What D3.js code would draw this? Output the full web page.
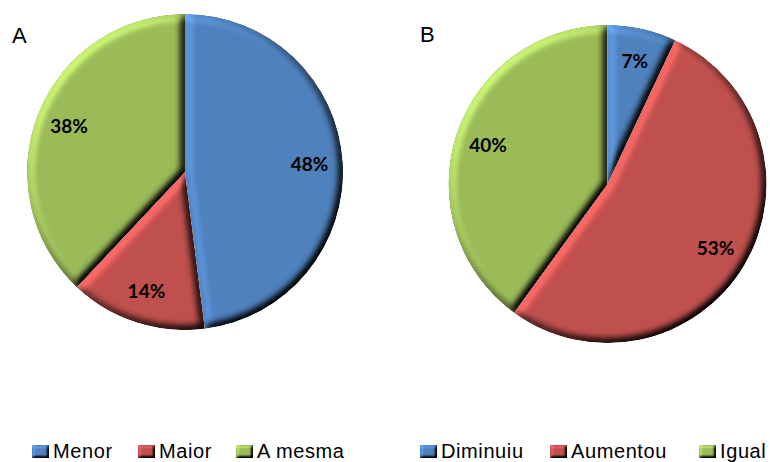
<!DOCTYPE html>
<html>
<head>
<meta charset="utf-8">
<script src="https://cdn.jsdelivr.net/npm/d3@7"></script>
<style>
  html, body { margin: 0; padding: 0; background: #ffffff; }
  svg { display: block; }
</style>
</head>
<body>
<svg id="chart" width="770" height="462"></svg>
<script>
// Panel A data
const categoriesA = ["Menor", "Maior", "A mesma"];
const valuesA = [48, 14, 38];
// Panel B data
const categoriesB = ["Diminuiu", "Aumentou", "Igual"];
const valuesB = [7, 53, 40];
const panelTitles = ["A", "B"];

// Office-style slice colours, one per category position
const sliceColors = ["#4F81BD", "#C0504D", "#9BBB59"];

// Layout of each panel (centre, radius, legend placement)
const panels = [
  { title: panelTitles[0], cats: categoriesA, vals: valuesA,
    cx: 185, cy: 172, r: 158, titleX: 12, titleY: 43,
    legendX: [32, 138, 236] },
  { title: panelTitles[1], cats: categoriesB, vals: valuesB,
    cx: 607.5, cy: 184, r: 159, titleX: 420, titleY: 42,
    legendX: [420, 550, 699] }
];

const svg = d3.select("#chart");
const defs = svg.append("defs");

// Soft bevel: lighting on blurred alpha, light coming from the upper left
function addBevel(id, blur, scale) {
  const f = defs.append("filter").attr("id", id)
    .attr("x", "-10%").attr("y", "-10%").attr("width", "120%").attr("height", "120%")
    .attr("color-interpolation-filters", "sRGB");
  f.append("feGaussianBlur").attr("in", "SourceAlpha").attr("stdDeviation", blur).attr("result", "blur");
  const dl = f.append("feDiffuseLighting").attr("in", "blur").attr("surfaceScale", scale)
    .attr("diffuseConstant", 1).attr("lighting-color", "#ffffff").attr("result", "diff");
  dl.append("feDistantLight").attr("azimuth", 225).attr("elevation", 50);
  f.append("feComposite").attr("in", "SourceGraphic").attr("in2", "diff")
    .attr("operator", "arithmetic").attr("k1", 1 / Math.sin(50 * Math.PI / 180))
    .attr("k2", 0).attr("k3", 0).attr("k4", 0).attr("result", "lit");
  f.append("feComposite").attr("in", "lit").attr("in2", "SourceAlpha").attr("operator", "in");
}
addBevel("bevel", 4.5, 6);
addBevel("bevelSmall", 1.5, 3);

const pie = d3.pie().sort(null).value(d => d.value);

panels.forEach(p => {
  const data = p.cats.map((c, i) => ({ cat: c, value: p.vals[i], color: sliceColors[i] }));
  const total = d3.sum(p.vals);
  const arcs = pie(data);
  const arc = d3.arc().innerRadius(0).outerRadius(p.r);
  const labelArc = d3.arc().innerRadius(p.r * 0.79).outerRadius(p.r * 0.79);

  const g = svg.append("g").attr("transform", `translate(${p.cx},${p.cy})`);

  g.selectAll("path.slice").data(arcs).enter().append("path")
    .attr("class", "slice")
    .attr("d", arc)
    .attr("fill", d => d.data.color)
    .attr("filter", "url(#bevel)");

  g.selectAll("text.lbl").data(arcs).enter().append("text")
    .attr("class", "lbl")
    .attr("transform", d => `translate(${labelArc.centroid(d)})`)
    .attr("text-anchor", "middle")
    .attr("dy", "0.36em")
    .attr("font-family", "Lato, 'Open Sans', sans-serif")
    .attr("font-weight", "bold")
    .attr("font-size", 19)
    .attr("fill", "#000")
    .text(d => Math.round(d.data.value / total * 100) + "%");

  // Panel letter
  svg.append("text")
    .attr("x", p.titleX).attr("y", p.titleY)
    .attr("font-family", "'Liberation Sans', Arial, sans-serif")
    .attr("font-size", 22)
    .attr("fill", "#000")
    .text(p.title);

  // Legend row
  const lg = svg.append("g");
  const items = lg.selectAll("g.item").data(data).enter().append("g")
    .attr("class", "item")
    .attr("transform", (d, i) => `translate(${p.legendX[i]},445)`);
  items.append("rect")
    .attr("width", 17).attr("height", 13)
    .attr("fill", d => d.color)
    .attr("filter", "url(#bevelSmall)");
  items.append("text")
    .attr("x", 21).attr("y", 13)
    .attr("font-family", "'Liberation Sans', Arial, sans-serif")
    .attr("font-size", 20)
    .attr("letter-spacing", 0.6)
    .attr("fill", "#000")
    .text(d => d.cat);
});
</script>
</body>
</html>
